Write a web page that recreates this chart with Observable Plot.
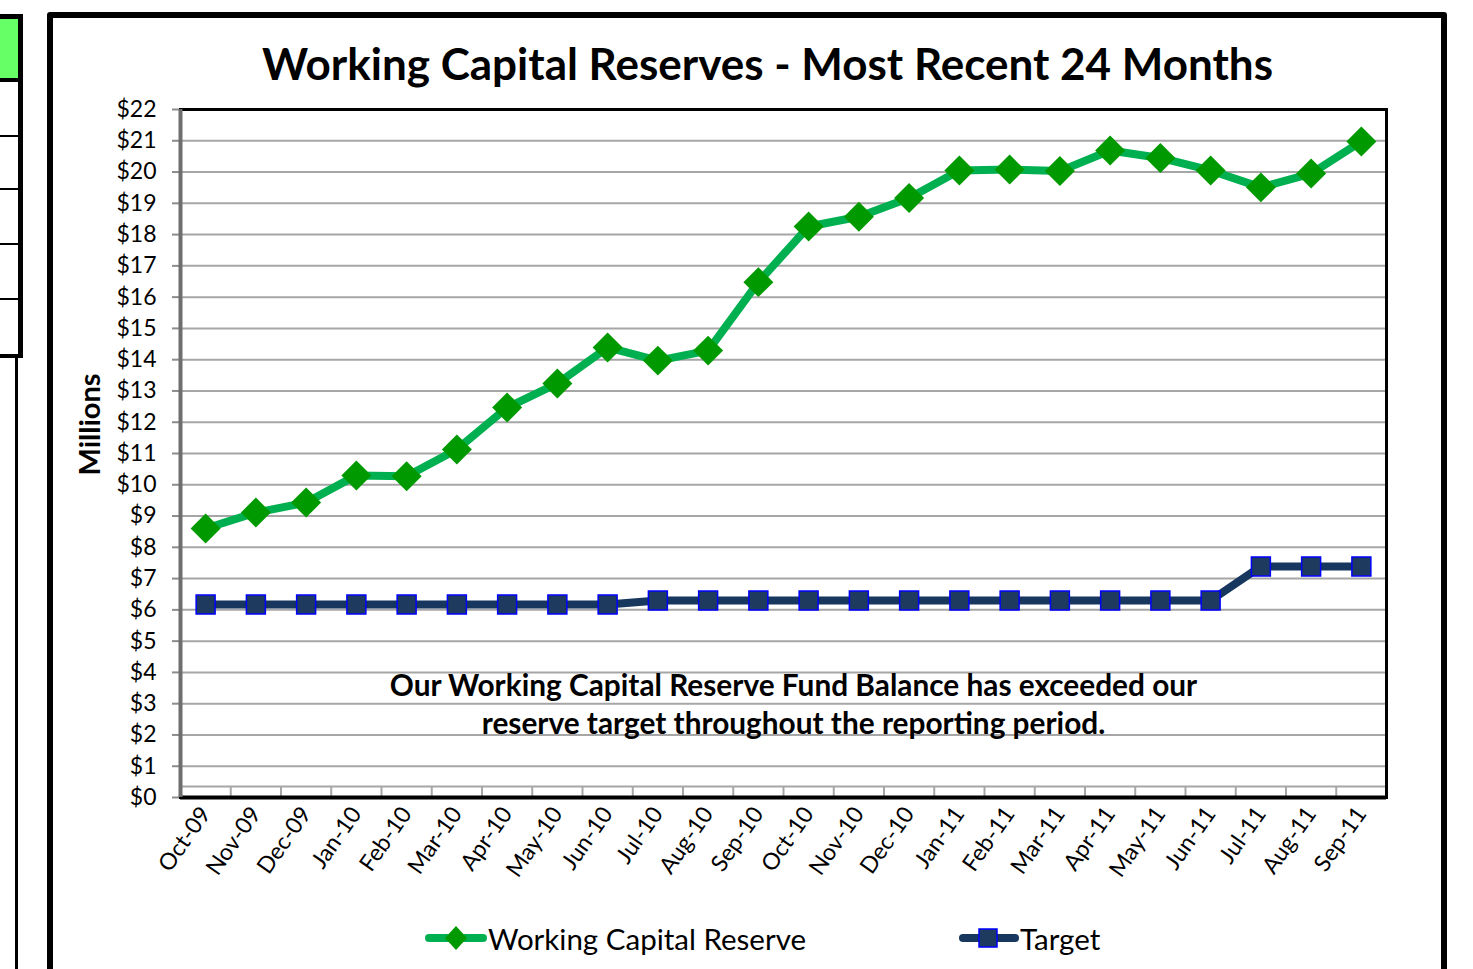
<!DOCTYPE html>
<html>
<head>
<meta charset="utf-8">
<script src="https://cdn.jsdelivr.net/npm/d3@7"></script>
<script src="https://cdn.jsdelivr.net/npm/@observablehq/plot@0.6"></script>
<style>
  html, body { margin: 0; padding: 0; background: #fff; }
  #wrap { position: relative; width: 1473px; height: 969px; overflow: hidden; font-family: Lato, "Open Sans", sans-serif; }
  #wrap svg.plot { position: absolute; left: 0; top: 0; }
  .deco { position: absolute; box-sizing: border-box; }
  .legend { position: absolute; top: 918px; height: 40px; display: flex; align-items: center; font-size: 29.5px; color: #000; }
  .legend svg { display: block; }
</style>
</head>
<body>
<div id="wrap">
  <!-- spreadsheet remnants on the left -->
  <div class="deco" style="left:0;top:14px;width:23px;height:68px;background:#66ff66;border-top:5px solid #000;border-right:5px solid #000;border-bottom:4px solid #000;"></div>
  <div class="deco" style="left:0;top:82px;width:23px;height:276px;border-right:5px solid #000;border-bottom:4px solid #000;"></div>
  <div class="deco" style="left:0;top:135px;width:20px;height:2px;background:#000;"></div>
  <div class="deco" style="left:0;top:188px;width:20px;height:2px;background:#000;"></div>
  <div class="deco" style="left:0;top:243px;width:20px;height:2px;background:#000;"></div>
  <div class="deco" style="left:0;top:298px;width:20px;height:2px;background:#000;"></div>
  <div class="deco" style="left:15px;top:356px;width:3px;height:620px;background:#000;"></div>
  <!-- chart area outer frame -->
  <div class="deco" style="left:47px;top:12px;width:1400px;height:1000px;border:6px solid #000;border-radius:3px;"></div>
  <div id="chart"></div>
  <div class="legend" style="left:424px;">
    <svg width="64" height="30"><line x1="5" y1="15" x2="59" y2="15" stroke="#00B050" stroke-width="8" stroke-linecap="round"/><path d="M32,3 L43,15 L32,27 L21,15 Z" fill="#009900"/></svg>
    <span>Working Capital Reserve</span>
  </div>
  <div class="legend" style="left:958px;">
    <svg width="62" height="30"><line x1="5" y1="15" x2="57" y2="15" stroke="#17375E" stroke-width="8" stroke-linecap="round"/><rect x="21" y="6" width="18" height="18" fill="#1F3A5F" stroke="#0000FF" stroke-width="1.5"/></svg>
    <span>Target</span>
  </div>
</div>
<script>
const months = ["Oct-09","Nov-09","Dec-09","Jan-10","Feb-10","Mar-10","Apr-10","May-10","Jun-10","Jul-10","Aug-10","Sep-10",
                "Oct-10","Nov-10","Dec-10","Jan-11","Feb-11","Mar-11","Apr-11","May-11","Jun-11","Jul-11","Aug-11","Sep-11"];
const reserve = [8.60, 9.11, 9.43, 10.30, 10.27, 11.13, 12.47, 13.24, 14.39, 13.97, 14.29, 16.48,
                 18.26, 18.57, 19.17, 20.05, 20.08, 20.03, 20.69, 20.45, 20.05, 19.51, 19.95, 20.98];
const target = [6.17, 6.17, 6.17, 6.17, 6.17, 6.17, 6.17, 6.17, 6.17, 6.30, 6.30, 6.30,
                6.30, 6.30, 6.30, 6.30, 6.30, 6.30, 6.30, 6.30, 6.30, 7.39, 7.39, 7.39];
const yTicks = d3.range(0, 23);
const titleText = "Working Capital Reserves - Most Recent 24 Months";
const yLabel = "Millions";
const note = "Our Working Capital Reserve Fund Balance has exceeded our\nreserve target throughout the reporting period.";

const idx = d3.range(months.length);
const xDomain = [-0.5, months.length - 0.5];
const bounds = d3.range(months.length + 1).map(i => i - 0.5);
const resData = idx.map(i => ({i, v: reserve[i]}));
const tgtData = idx.map(i => ({i, v: target[i]}));

const chart = Plot.plot({
  width: 1473,
  height: 969,
  marginLeft: 180,
  marginRight: 87,
  marginTop: 109,
  marginBottom: 172,
  style: {fontFamily: "Lato, 'Open Sans', sans-serif", background: "transparent", color: "#000"},
  x: {type: "linear", domain: xDomain},
  y: {domain: [0, 22]},
  marks: [
    Plot.gridY(yTicks, {stroke: "#a6a6a6", strokeOpacity: 1, strokeWidth: 2}),
    Plot.ruleY([0], {dy: -11, stroke: "#a6a6a6", strokeWidth: 2}),
    Plot.ruleX(bounds, {stroke: "#a6a6a6", strokeWidth: 2, insetTop: 677}),
    Plot.axisY(yTicks, {tickFormat: d => "$" + d, tickSize: 8, tickPadding: 16, fontSize: 23, stroke: "#8c8c8c", strokeWidth: 2, label: null}),
    Plot.axisX(idx, {tickFormat: i => months[i], tickRotate: -55, tickSize: 0, tickPadding: 12, fontSize: 23, label: null}),
    Plot.frame({stroke: "#000", strokeWidth: 3}),
    Plot.ruleY([0], {stroke: "#000", strokeWidth: 4}),
    Plot.ruleX([xDomain[0]], {stroke: "#6e6e6e", strokeWidth: 4}),
    Plot.text([note], {frameAnchor: "bottom", dx: 10, dy: -64, lineAnchor: "bottom", lineHeight: 1.27, fontSize: 29.8, fontWeight: "bold", fill: "#000"}),
    Plot.text([titleText], {frameAnchor: "top", dy: -44, fontSize: 44, fontWeight: "bold", fill: "#000", dx: -16, lineAnchor: "middle"}),
    Plot.text([yLabel], {frameAnchor: "left", textAnchor: "middle", rotate: -90, dx: -90, dy: -29, fontSize: 29, fontWeight: "bold", fill: "#000"}),
    Plot.line(tgtData, {x: "i", y: "v", stroke: "#17375E", strokeWidth: 8}),
    Plot.dot(tgtData, {x: "i", y: "v", symbol: "square", r: 10.7, fill: "#1F3A5F", stroke: "#0000FF", strokeWidth: 1.5}),
    Plot.line(resData, {x: "i", y: "v", stroke: "#00B050", strokeWidth: 8}),
    Plot.dot(resData, {x: "i", y: "v", symbol: "diamond2", r: 13.5, fill: "#009900", stroke: "none"})
  ]
});
document.getElementById("chart").appendChild(chart);
</script>
</body>
</html>
